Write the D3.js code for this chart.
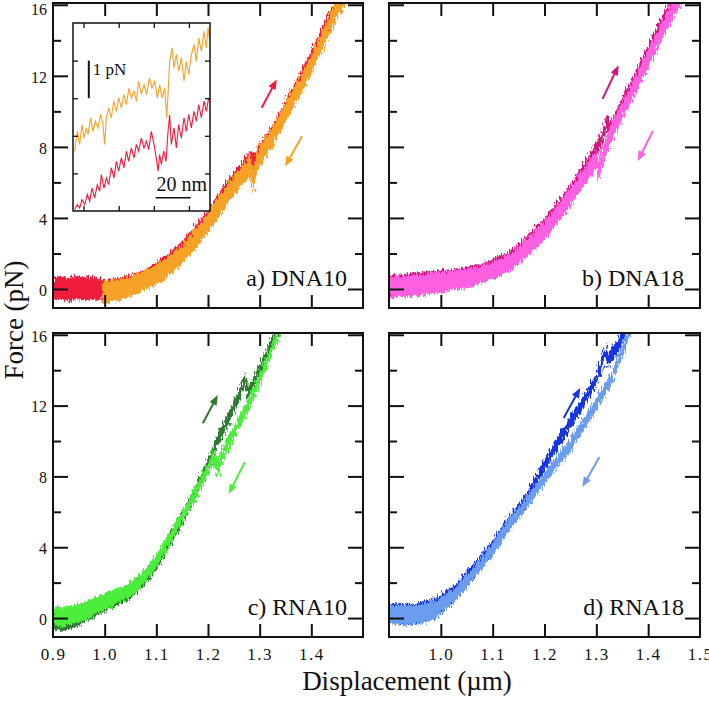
<!DOCTYPE html>
<html><head><meta charset="utf-8">
<script src="https://cdn.jsdelivr.net/npm/d3@7"></script>
<style>
body{margin:0;background:#fff}
svg{display:block;font-family:"Liberation Serif","Times New Roman",serif}
svg text{font-family:"Liberation Serif","Times New Roman",serif;fill:#111}
</style>
</head><body>
<svg id="c" width="709" height="702"></svg>
<script>
// ---------- axis data ----------
const xDomain = [0.9, 1.5];
const yDomain = [-1.07, 16.1];
const xTickVals = [1.0, 1.1, 1.2, 1.3, 1.4];
const yMajor = [0, 4, 8, 12, 16];
const yMinor = [2, 6, 10, 14];
const xLabelsLeft = [0.9, 1.0, 1.1, 1.2, 1.3, 1.4];
const xLabelsRight = [1.0, 1.1, 1.2, 1.3, 1.4, 1.5];
const panelLabels = ["a) DNA10", "b) DNA18", "c) RNA10", "d) RNA18"];
const xTitle = "Displacement (\u00b5m)";
const yTitle = "Force (pN)";

// ---------- traces: x (µm), force (pN), half band width (pN) ----------
// a) DNA10
const aUpX = [0.900,0.915,0.930,0.945,0.960,0.975,0.990,1.000,1.030,1.060,1.090,1.120,1.150,1.180,1.210,1.240,1.270,1.283,1.290,1.300,1.330,1.360,1.390,1.420,1.450,1.465];
const aUpF = [0.0,0.1,-0.05,0.1,0.0,0.05,0.0,0.0,0.15,0.45,0.9,1.5,2.3,3.3,4.5,5.8,6.9,7.3,7.15,7.7,9.05,10.75,12.45,14.25,16.05,16.6];
const aUpW = [0.65,0.65,0.65,0.65,0.65,0.65,0.6,0.55,0.45,0.4,0.4,0.4,0.4,0.4,0.4,0.4,0.4,0.45,0.45,0.4,0.4,0.4,0.4,0.4,0.4,0.4];
const aDnX = [0.995,1.030,1.060,1.090,1.120,1.150,1.180,1.210,1.240,1.270,1.283,1.288,1.295,1.330,1.360,1.390,1.420,1.450,1.468];
const aDnF = [-0.2,-0.05,0.25,0.65,1.2,1.95,2.95,4.15,5.45,6.55,6.9,6.0,7.3,8.8,10.5,12.1,13.9,15.8,16.6];
const aDnW = [0.6,0.6,0.55,0.55,0.55,0.55,0.55,0.55,0.55,0.55,0.6,0.7,0.6,0.55,0.55,0.55,0.55,0.55,0.55];
// b) DNA18
const bUpX = [0.900,0.930,0.960,0.990,1.020,1.050,1.080,1.110,1.140,1.170,1.200,1.230,1.260,1.290,1.310,1.322,1.327,1.350,1.380,1.410,1.440,1.458];
const bUpF = [0.2,0.3,0.4,0.5,0.6,0.75,1.0,1.35,1.9,2.7,3.55,4.7,5.9,7.3,8.5,9.4,8.9,10.4,12.1,13.9,15.7,16.6];
const bUpW = [0.55,0.55,0.55,0.55,0.5,0.5,0.45,0.45,0.4,0.4,0.4,0.4,0.4,0.4,0.4,0.45,0.45,0.4,0.4,0.4,0.4,0.4];
const bDnX = [0.900,0.930,0.960,0.990,1.020,1.050,1.080,1.110,1.140,1.170,1.200,1.230,1.260,1.290,1.300,1.304,1.312,1.330,1.360,1.390,1.420,1.450,1.465];
const bDnF = [0.05,0.15,0.25,0.35,0.45,0.6,0.85,1.15,1.65,2.4,3.3,4.4,5.6,6.9,7.4,6.6,7.5,8.9,10.6,12.4,14.1,15.9,16.6];
const bDnW = [0.6,0.6,0.6,0.6,0.55,0.55,0.5,0.5,0.5,0.5,0.5,0.5,0.5,0.5,0.5,0.6,0.5,0.5,0.5,0.5,0.5,0.5,0.5];
// c) RNA10
const cUpX = [0.900,0.920,0.940,0.960,0.980,1.000,1.020,1.040,1.060,1.080,1.100,1.120,1.140,1.160,1.180,1.200,1.220,1.240,1.260,1.272,1.278,1.290,1.310,1.340];
const cUpF = [-0.1,-0.2,0.0,0.25,0.55,0.85,1.1,1.35,1.7,2.35,3.1,4.1,5.1,6.2,7.4,8.7,10.1,11.3,12.6,13.5,12.6,13.4,14.7,16.6];
const cUpW = [0.55,0.55,0.55,0.5,0.5,0.45,0.45,0.4,0.4,0.35,0.35,0.35,0.35,0.35,0.35,0.35,0.35,0.35,0.35,0.4,0.45,0.35,0.35,0.35];
const cDnX = [0.900,0.920,0.940,0.960,0.980,1.000,1.020,1.040,1.060,1.080,1.100,1.120,1.140,1.160,1.180,1.200,1.212,1.219,1.230,1.250,1.270,1.290,1.310,1.342];
const cDnF = [0.1,0.05,0.2,0.35,0.65,0.9,1.2,1.45,1.8,2.45,3.2,4.2,5.2,6.2,7.3,8.5,9.1,8.4,9.4,10.5,11.6,12.8,14.2,16.6];
const cDnW = [0.55,0.55,0.55,0.5,0.5,0.45,0.45,0.4,0.4,0.35,0.35,0.35,0.35,0.35,0.35,0.35,0.4,0.5,0.4,0.35,0.35,0.35,0.35,0.35];
// d) RNA18
const dUpX = [0.900,0.930,0.960,0.990,1.010,1.030,1.050,1.070,1.100,1.130,1.167,1.192,1.225,1.264,1.299,1.318,1.322,1.340,1.365];
const dUpF = [0.3,0.25,0.3,0.65,1.05,1.55,2.25,2.95,4.05,5.35,6.75,8.2,9.85,11.7,13.4,15.1,14.5,15.3,16.6];
const dUpW = [0.55,0.55,0.55,0.5,0.45,0.4,0.4,0.35,0.35,0.35,0.35,0.35,0.35,0.35,0.35,0.4,0.4,0.35,0.35];
const dDnX = [0.900,0.930,0.960,0.990,1.010,1.030,1.050,1.070,1.100,1.130,1.167,1.205,1.250,1.289,1.327,1.345,1.368];
const dDnF = [0.2,0.15,0.2,0.5,0.9,1.4,2.1,2.8,3.9,5.2,6.6,8.1,9.8,11.6,13.4,14.7,16.6];
const dDnW = [0.55,0.55,0.55,0.5,0.45,0.4,0.4,0.35,0.35,0.35,0.35,0.35,0.35,0.35,0.35,0.35,0.35];

// direction arrows [x0, f0, x1, f1]
const arrowsA = [[1.304,10.2,1.333,11.8],[1.382,8.6,1.349,6.9]];
const arrowsB = [[1.312,10.7,1.343,12.6],[1.409,8.9,1.380,7.2]];
const arrowsC = [[1.190,11.0,1.219,12.6],[1.271,8.8,1.240,7.0]];
const arrowsD = [[1.237,11.3,1.269,13.0],[1.306,9.1,1.273,7.4]];

const colorsA = ["#ef1a3c", "#f7a126"];
const colorsB = ["#d4157f", "#ff5ee0"];
const colorsC = ["#2f7a30", "#4cee3a"];
const colorsD = ["#1434e0", "#6b9cf0"];

// ---------- inset (panel a): displacement (nm), force (pN) ----------
const insetXDomain = [-6, 72];
const insetYDomain = [-1, 4];
const insetXTicks = [0, 20, 40, 60];
const insetYTicks = [0, 1, 2, 3];
const insetOrX = [-5.05,-3.53,-2.21,-0.88,0.26,1.59,2.54,4.06,5.39,6.72,8.23,9.75,11.08,12.03,12.98,14.31,15.83,17.16,18.67,20.0,21.52,23.04,24.37,25.89,27.22,28.74,30.06,31.39,32.91,34.43,35.95,37.47,38.99,40.5,42.02,43.35,44.68,46.2,47.34,48.1,49.05,50.38,51.51,52.84,54.17,55.69,57.21,58.54,59.87,61.38,62.9,64.23,65.56,67.08,68.6,69.93,70.88,71.83];
const insetOrF = [0.59,1.12,0.77,1.30,0.94,1.21,1.03,1.48,1.12,1.39,1.21,1.57,1.30,0.77,1.48,1.74,1.48,1.92,1.65,2.01,1.74,2.10,1.83,2.27,2.01,2.19,1.92,2.45,2.10,2.36,2.10,2.54,2.27,2.45,2.01,2.36,2.01,2.27,1.48,2.10,2.98,3.34,2.81,3.16,2.72,3.07,2.45,2.98,2.63,3.16,3.43,2.98,3.60,3.25,3.78,3.34,3.87,3.52];
const insetRdX = [-5.05,-3.53,-2.21,-0.88,0.64,2.16,3.49,4.82,6.34,7.85,9.18,10.13,11.65,12.98,14.31,15.83,17.35,18.67,20.0,21.52,23.04,24.37,25.7,27.22,28.74,30.06,31.39,32.91,34.43,35.76,37.09,38.61,40.12,41.45,42.4,43.35,44.3,45.63,46.96,48.1,49.05,50.0,51.51,52.84,54.17,55.69,57.21,58.54,59.87,61.38,62.9,64.23,65.56,67.08,68.6,69.93,71.26];
const insetRdF = [-0.96,-0.83,-0.92,-0.70,-0.83,-0.56,-0.74,-0.39,-0.65,-0.30,-0.47,-0.03,-0.39,-0.12,-0.30,0.15,-0.12,0.32,0.06,0.41,0.15,0.59,0.32,0.68,0.41,0.77,0.59,0.94,0.68,0.86,0.63,1.12,0.77,0.41,0.06,0.50,0.24,0.59,0.32,1.12,1.55,0.77,1.21,0.68,1.30,0.94,1.48,1.12,1.57,1.21,1.65,1.39,1.83,1.48,1.92,1.65,2.01];
const insetBarPN = [3.0, 2.0, 3.0];   // x (nm), force from, force to
const insetBarNM = [41, 61, -0.65];   // nm from, nm to, force
const insetTextPN = "1 pN";
const insetTextNM = "20 nm";

// ---------- drawing ----------
const svg = d3.select("#c");
const zip = (X, F, W) => X.map((v, i) => ({x: v, f: F[i], w: W[i]}));
const FONT = "Liberation Serif, Times New Roman, serif";

const panels = [
  {L: 53, R: 363, T: 3, B: 308, label: panelLabels[0], traces: [[aUpX,aUpF,aUpW],[aDnX,aDnF,aDnW]], colors: colorsA, arrows: arrowsA, yLab: true, xLab: null},
  {L: 389, R: 700, T: 3, B: 308, label: panelLabels[1], traces: [[bUpX,bUpF,bUpW],[bDnX,bDnF,bDnW]], colors: colorsB, arrows: arrowsB, yLab: false, xLab: null},
  {L: 53, R: 363, T: 333, B: 637, label: panelLabels[2], traces: [[cUpX,cUpF,cUpW],[cDnX,cDnF,cDnW]], colors: colorsC, arrows: arrowsC, yLab: true, xLab: xLabelsLeft},
  {L: 389, R: 700, T: 333, B: 637, label: panelLabels[3], traces: [[dUpX,dUpF,dUpW],[dDnX,dDnF,dDnW]], colors: colorsD, arrows: arrowsD, yLab: false, xLab: xLabelsRight},
];

const defs = svg.append("defs");
// roughening filters (visual noise texture of the measured traces)
[3, 11].forEach((seed, k) => {
  const f = defs.append("filter").attr("id", "rough" + k)
    .attr("x", "-10%").attr("y", "-10%").attr("width", "120%").attr("height", "120%");
  f.append("feTurbulence").attr("type", "fractalNoise").attr("baseFrequency", "0.75 0.18")
    .attr("numOctaves", 2).attr("seed", seed).attr("result", "n");
  f.append("feDisplacementMap").attr("in", "SourceGraphic").attr("in2", "n").attr("scale", 9)
    .attr("xChannelSelector", "R").attr("yChannelSelector", "G");
});

function arrow(g, x, y, a, color) {
  const x0 = x(a[0]), y0 = y(a[1]), x1 = x(a[2]), y1 = y(a[3]);
  const dx = x1 - x0, dy = y1 - y0, len = Math.hypot(dx, dy);
  const ux = dx / len, uy = dy / len;
  const hl = 10, hw = 4;
  const bx = x1 - ux * hl, by = y1 - uy * hl;
  g.append("line").attr("x1", x0).attr("y1", y0).attr("x2", bx + ux).attr("y2", by + uy)
    .attr("stroke", color).attr("stroke-width", 2);
  g.append("path").attr("d", `M${x1},${y1}L${bx - uy * hw},${by + ux * hw}L${bx + uy * hw},${by - ux * hw}Z`)
    .attr("fill", color);
}

panels.forEach((p, pi) => {
  const x = d3.scaleLinear(xDomain, [p.L, p.R]);
  const y = d3.scaleLinear(yDomain, [p.B, p.T]);
  const g = svg.append("g");
  const cid = "clip" + pi;
  defs.append("clipPath").attr("id", cid).append("rect")
    .attr("x", p.L).attr("y", p.T).attr("width", p.R - p.L).attr("height", p.B - p.T);

  const area = d3.area().x(d => x(d.x)).y0(d => y(d.f - d.w)).y1(d => y(d.f + d.w)).curve(d3.curveLinear);
  const gd = g.append("g").attr("clip-path", `url(#${cid})`);
  p.traces.forEach((t, ti) => {
    gd.append("g").attr("filter", `url(#rough${ti})`)
      .append("path").datum(zip(t[0], t[1], t[2])).attr("d", area).attr("fill", p.colors[ti]);
  });
  p.arrows.forEach((a, ai) => arrow(g, x, y, a, p.colors[ai]));

  // frame
  g.append("rect").attr("x", p.L).attr("y", p.T).attr("width", p.R - p.L).attr("height", p.B - p.T)
    .attr("fill", "none").attr("stroke", "#111").attr("stroke-width", 2);

  // ticks (inward, mirrored)
  const tickStyle = sel => { sel.select(".domain").remove(); sel.selectAll("line").attr("stroke", "#111").attr("stroke-width", 2); sel.selectAll("text").remove(); };
  g.append("g").attr("transform", `translate(0,${p.B})`).call(d3.axisBottom(x).tickValues(xTickVals).tickSize(-13)).call(tickStyle);
  g.append("g").attr("transform", `translate(0,${p.T})`).call(d3.axisTop(x).tickValues(xTickVals).tickSize(-13)).call(tickStyle);
  g.append("g").attr("transform", `translate(${p.L},0)`).call(d3.axisLeft(y).tickValues(yMajor).tickSize(-15)).call(tickStyle);
  g.append("g").attr("transform", `translate(${p.L},0)`).call(d3.axisLeft(y).tickValues(yMinor).tickSize(-8)).call(tickStyle);
  g.append("g").attr("transform", `translate(${p.R},0)`).call(d3.axisRight(y).tickValues(yMajor).tickSize(-15)).call(tickStyle);
  g.append("g").attr("transform", `translate(${p.R},0)`).call(d3.axisRight(y).tickValues(yMinor).tickSize(-8)).call(tickStyle);

  // tick labels
  if (p.yLab) {
    const ax = g.append("g").attr("transform", `translate(${p.L},0)`)
      .call(d3.axisLeft(y).tickValues(yMajor).tickSize(0).tickPadding(6).tickFormat(d3.format("d")));
    ax.attr("font-family", FONT);
    ax.select(".domain").remove();
    ax.selectAll("text").attr("font-family", FONT).attr("font-size", 16).attr("fill", "#111")
      .attr("dy", d => d === 16 && p.T < 10 ? "0.62em" : "0.4em");
  }
  if (p.xLab) {
    const ax = g.append("g").attr("transform", `translate(0,${p.B})`)
      .call(d3.axisBottom(x).tickValues(p.xLab).tickSize(0).tickPadding(11).tickFormat(d3.format(".1f")));
    ax.attr("font-family", FONT);
    ax.select(".domain").remove();
    ax.selectAll("text").attr("font-family", FONT).attr("font-size", 17).attr("fill", "#111")
      .attr("letter-spacing", "1.5px");
  }

  // panel label
  g.append("text").attr("x", p.R - 16).attr("y", y(0) - 3).attr("text-anchor", "end")
    .attr("font-size", 24).text(p.label);

  // inset for panel a
  if (pi === 0) {
    const iL = 73, iR = 210, iT = 23, iB = 211;
    const ix = d3.scaleLinear(insetXDomain, [iL, iR]);
    const iy = d3.scaleLinear(insetYDomain, [iB, iT]);
    const ig = svg.append("g");
    ig.append("rect").attr("x", iL).attr("y", iT).attr("width", iR - iL).attr("height", iB - iT).attr("fill", "#fff");
    defs.append("clipPath").attr("id", "clipInset").append("rect")
      .attr("x", iL).attr("y", iT).attr("width", iR - iL).attr("height", iB - iT);
    const line = d3.line().x(d => ix(d.x)).y(d => iy(d.f));
    const ic = ig.append("g").attr("clip-path", "url(#clipInset)");
    ic.append("path").datum(insetOrX.map((v, i) => ({x: v, f: insetOrF[i]}))).attr("d", line)
      .attr("fill", "none").attr("stroke", colorsA[1]).attr("stroke-width", 1.1);
    ic.append("path").datum(insetRdX.map((v, i) => ({x: v, f: insetRdF[i]}))).attr("d", line)
      .attr("fill", "none").attr("stroke", colorsA[0]).attr("stroke-width", 1.1);
    ig.append("rect").attr("x", iL).attr("y", iT).attr("width", iR - iL).attr("height", iB - iT)
      .attr("fill", "none").attr("stroke", "#111").attr("stroke-width", 1.5);
    const its = sel => { sel.select(".domain").remove(); sel.selectAll("line").attr("stroke", "#111").attr("stroke-width", 1.3); sel.selectAll("text").remove(); };
    ig.append("g").attr("transform", `translate(0,${iB})`).call(d3.axisBottom(ix).tickValues(insetXTicks).tickSize(-5)).call(its);
    ig.append("g").attr("transform", `translate(0,${iT})`).call(d3.axisTop(ix).tickValues(insetXTicks).tickSize(-5)).call(its);
    ig.append("g").attr("transform", `translate(${iL},0)`).call(d3.axisLeft(iy).tickValues(insetYTicks).tickSize(-5)).call(its);
    ig.append("g").attr("transform", `translate(${iR},0)`).call(d3.axisRight(iy).tickValues(insetYTicks).tickSize(-5)).call(its);
    // scale bars
    ig.append("line").attr("x1", ix(insetBarPN[0])).attr("x2", ix(insetBarPN[0]))
      .attr("y1", iy(insetBarPN[1])).attr("y2", iy(insetBarPN[2])).attr("stroke", "#111").attr("stroke-width", 2);
    ig.append("text").attr("x", ix(insetBarPN[0]) + 4).attr("y", iy(2.62)).attr("font-size", 17).text(insetTextPN);
    ig.append("line").attr("x1", ix(insetBarNM[0])).attr("x2", ix(insetBarNM[1]))
      .attr("y1", iy(insetBarNM[2])).attr("y2", iy(insetBarNM[2])).attr("stroke", "#111").attr("stroke-width", 1.5);
    ig.append("text").attr("x", ix(insetBarNM[0]) + 1).attr("y", iy(-0.47)).attr("font-size", 20).text(insetTextNM);
  }
});

// axis titles
svg.append("text").attr("x", 407).attr("y", 690).attr("text-anchor", "middle").attr("font-size", 27).text(xTitle);
svg.append("text").attr("transform", "translate(23,320) rotate(-90)").attr("text-anchor", "middle").attr("font-size", 27).text(yTitle);
</script>
</body></html>
